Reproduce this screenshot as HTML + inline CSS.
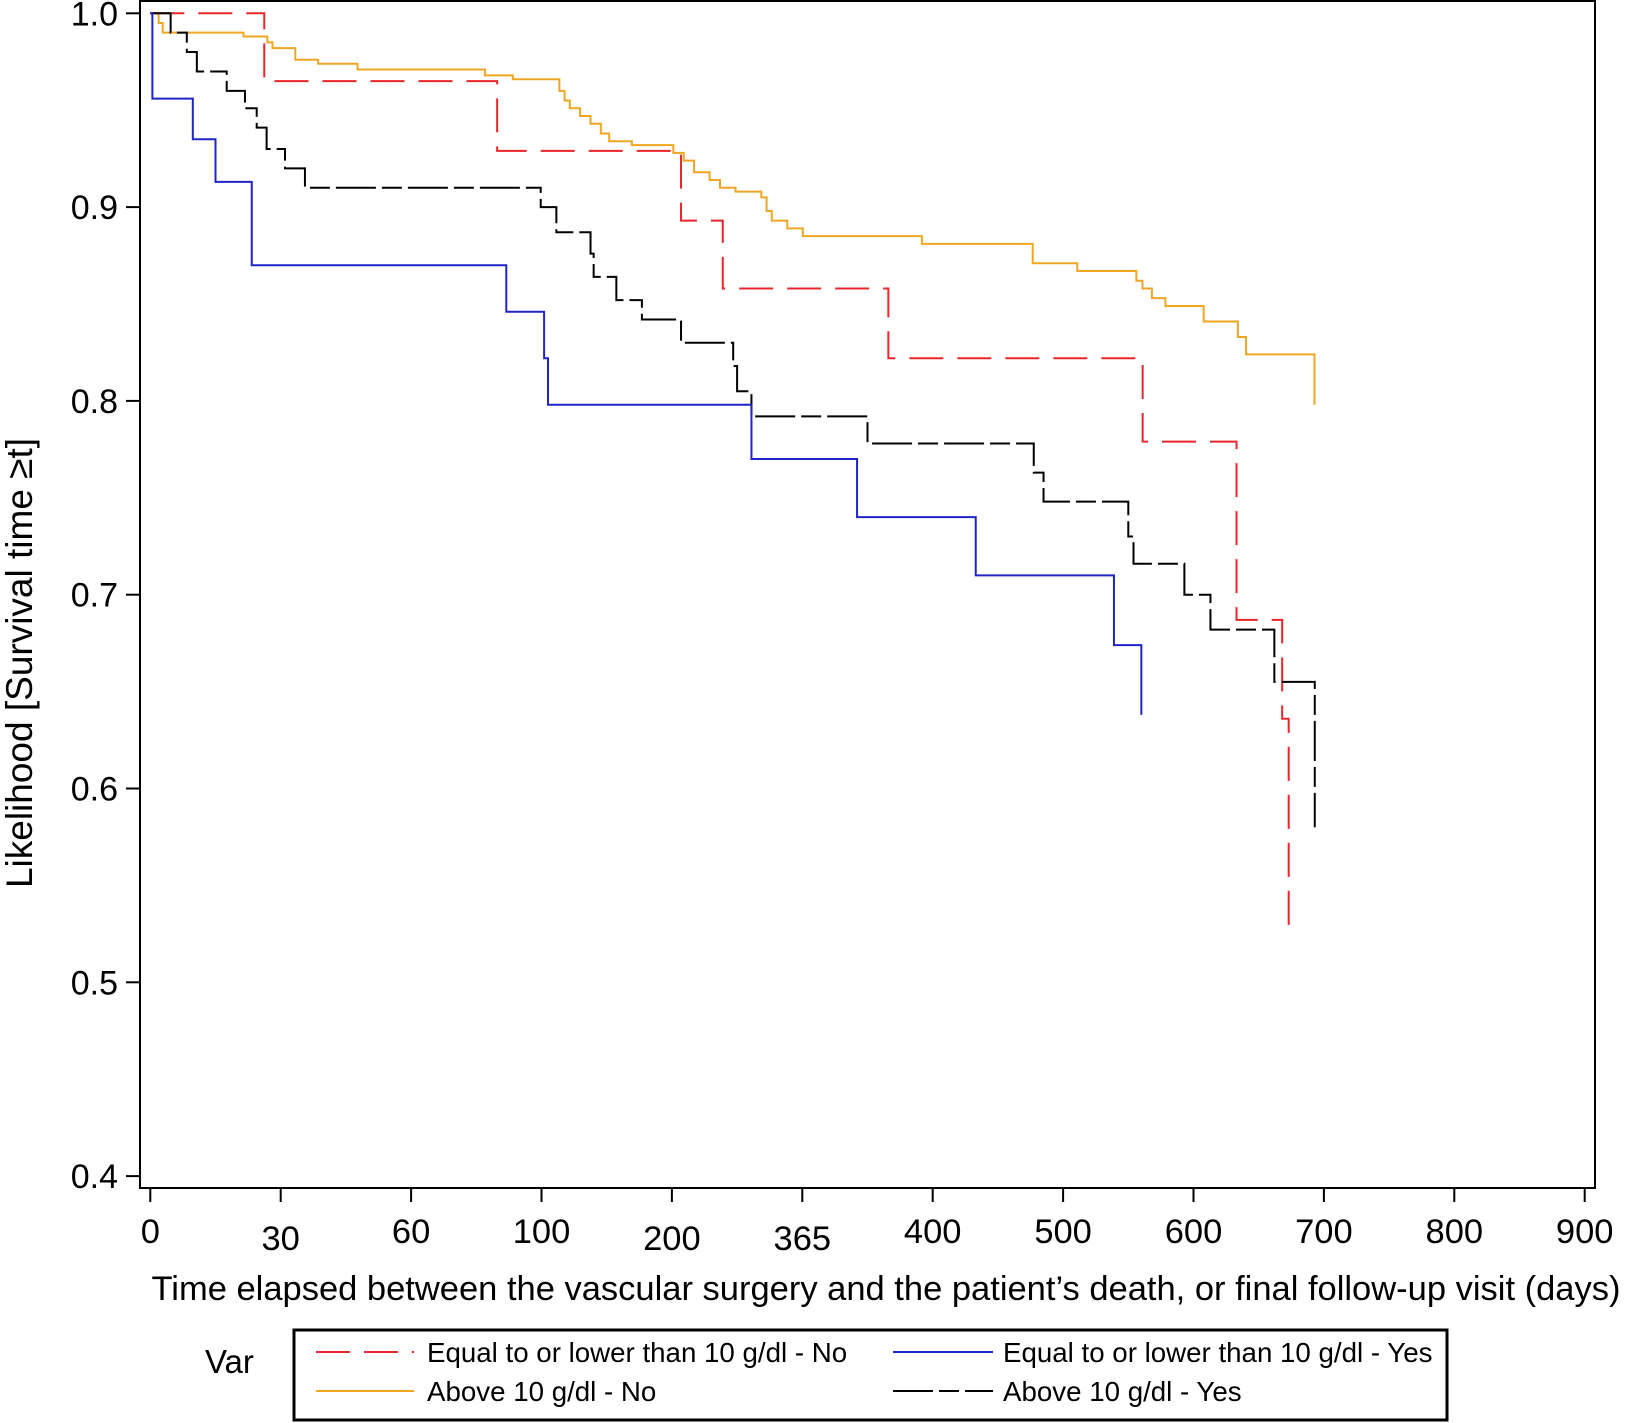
<!DOCTYPE html>
<html><head><meta charset="utf-8"><style>
html,body{margin:0;padding:0;background:#fff;}
svg{display:block;font-family:"Liberation Sans",Arial,sans-serif;}
</style></head><body>
<svg id="chart" width="1625" height="1423" viewBox="0 0 1625 1423">
<rect x="140" y="1" width="1455" height="1187" fill="none" stroke="#000" stroke-width="2"/>
<g id="yaxis"></g>
<g id="xaxis"></g>
<text x="32" y="663" font-size="37" text-anchor="middle" transform="rotate(-90 32 663)">Likelihood [Survival time ≥t]</text>
<text x="886" y="1300" font-size="34.5" text-anchor="middle">Time elapsed between the vascular surgery and the patient’s death, or final follow-up visit (days)</text>
<g id="series"></g>
<g>
<rect x="294" y="1330" width="1153" height="90" fill="none" stroke="#000" stroke-width="3"/>
<text x="205" y="1373" font-size="33">Var</text>
<line x1="316" y1="1352" x2="414" y2="1352" stroke="#e8262b" stroke-width="2" stroke-dasharray="34,14"/>
<text x="427" y="1362" font-size="27.7">Equal to or lower than 10 g/dl - No</text>
<line x1="893" y1="1352" x2="993" y2="1352" stroke="#2025c8" stroke-width="2"/>
<text x="1003" y="1362" font-size="27.7">Equal to or lower than 10 g/dl - Yes</text>
<line x1="316" y1="1391" x2="414" y2="1391" stroke="#f0a623" stroke-width="2"/>
<text x="427" y="1401" font-size="27.7">Above 10 g/dl - No</text>
<line x1="893" y1="1391" x2="993" y2="1391" stroke="#000" stroke-width="2" stroke-dasharray="40,6,20,6"/>
<text x="1003" y="1401" font-size="27.7">Above 10 g/dl - Yes</text>
</g>
</svg>
<script>
const xTickLabels = ["0","30","60","100","200","365","400","500","600","700","800","900"];
const yTickValues = [0.4,0.5,0.6,0.7,0.8,0.9,1.0];
const blueTimes = [0.016,0.016,0.326,0.50,0.778,2.73,3.02,3.05,4.61,5.42,6.33,7.39,7.60];
const blueSurv = [1.0,0.956,0.935,0.913,0.870,0.846,0.822,0.798,0.770,0.740,0.710,0.674,0.638];
const redTimes = [0.016,0.874,2.66,4.07,4.39,5.66,7.61,8.33,8.68,8.73];
const redSurv = [1.0,0.965,0.929,0.893,0.858,0.822,0.779,0.687,0.636,0.526];
const orangeTimes = [0.016,0.064,0.095,0.715,0.898,0.937,1.112,1.287,1.589,2.566,2.78,3.137,3.177,3.217,3.296,3.376,3.455,3.519,3.693,4.011,4.091,4.17,4.289,4.369,4.488,4.686,4.726,4.766,4.885,5.004,5.917,6.767,7.109,7.562,7.609,7.681,7.784,8.078,8.34,8.403,8.928];
const orangeSurv = [1.0,0.995,0.990,0.988,0.985,0.982,0.976,0.974,0.971,0.968,0.966,0.960,0.955,0.951,0.947,0.943,0.938,0.934,0.932,0.928,0.924,0.918,0.914,0.910,0.908,0.905,0.898,0.893,0.889,0.885,0.881,0.871,0.867,0.862,0.858,0.853,0.849,0.841,0.833,0.824,0.798];
const blackTimes = [0.016,0.156,0.28,0.357,0.586,0.726,0.816,0.892,1.033,1.186,2.994,3.114,3.376,3.4,3.574,3.77,4.07,4.47,4.5,4.61,5.5,6.775,6.85,7.5,7.54,7.93,8.13,8.62,8.93];
const blackSurv = [1.0,0.990,0.980,0.970,0.960,0.951,0.941,0.930,0.920,0.910,0.900,0.887,0.876,0.864,0.852,0.842,0.830,0.818,0.805,0.792,0.778,0.763,0.748,0.730,0.716,0.700,0.682,0.655,0.580];

const NS="http://www.w3.org/2000/svg";
function xScale(u){return 150.3+u*130.4;}
function yScale(v){return 13.3+(1.0-v)*1938;}
function mk(tag,attrs,parent){const e=document.createElementNS(NS,tag);for(const k in attrs)e.setAttribute(k,attrs[k]);parent.appendChild(e);return e;}

const ya=document.getElementById('yaxis');
yTickValues.forEach(v=>{
  const y=yScale(v);
  const t=mk('line',{x1:126,x2:140,y1:y,y2:y,stroke:'#000','stroke-width':2},ya);
  
  
  const l=mk('text',{x:118,y:y+12,'font-size':34,'text-anchor':'end'},ya);
  l.textContent=v.toFixed(1);
  
  
});
const xa=document.getElementById('xaxis');
xTickLabels.forEach((s,i)=>{
  const x=xScale(i);
  const t=mk('line',{x1:x,x2:x,y1:1188,y2:1202,stroke:'#000','stroke-width':2},xa);
  
  
  const low=(s==="30"||s==="200"||s==="365");
  const l=mk('text',{x:x,y:low?1250:1243,'font-size':34.5,'text-anchor':'middle'},xa);
  l.textContent=s;
  
  
});
function stepPath(ts,vs){
  let d='M'+xScale(0)+','+yScale(vs[0])+' H'+xScale(ts[0]);
  for(let i=1;i<ts.length;i++){d+=' H'+xScale(ts[i])+' V'+yScale(vs[i]);}
  return d;
}
const sg=document.getElementById('series');
const defs=[
 [orangeTimes,orangeSurv,'#f0a623','', 'curve-above-no'],
 [redTimes,redSurv,'#e8262b','34,14','curve-low-no'],
 [blackTimes,blackSurv,'#000','40,6,20,6','curve-above-yes'],
 [blueTimes,blueSurv,'#2025c8','','curve-low-yes']
];
defs.forEach(d=>{
  const p=mk('path',{d:stepPath(d[0],d[1]),fill:'none',stroke:d[2],'stroke-width':2},sg);
  if(d[3])p.setAttribute('stroke-dasharray',d[3]);
  
  
});
</script>
</body></html>
